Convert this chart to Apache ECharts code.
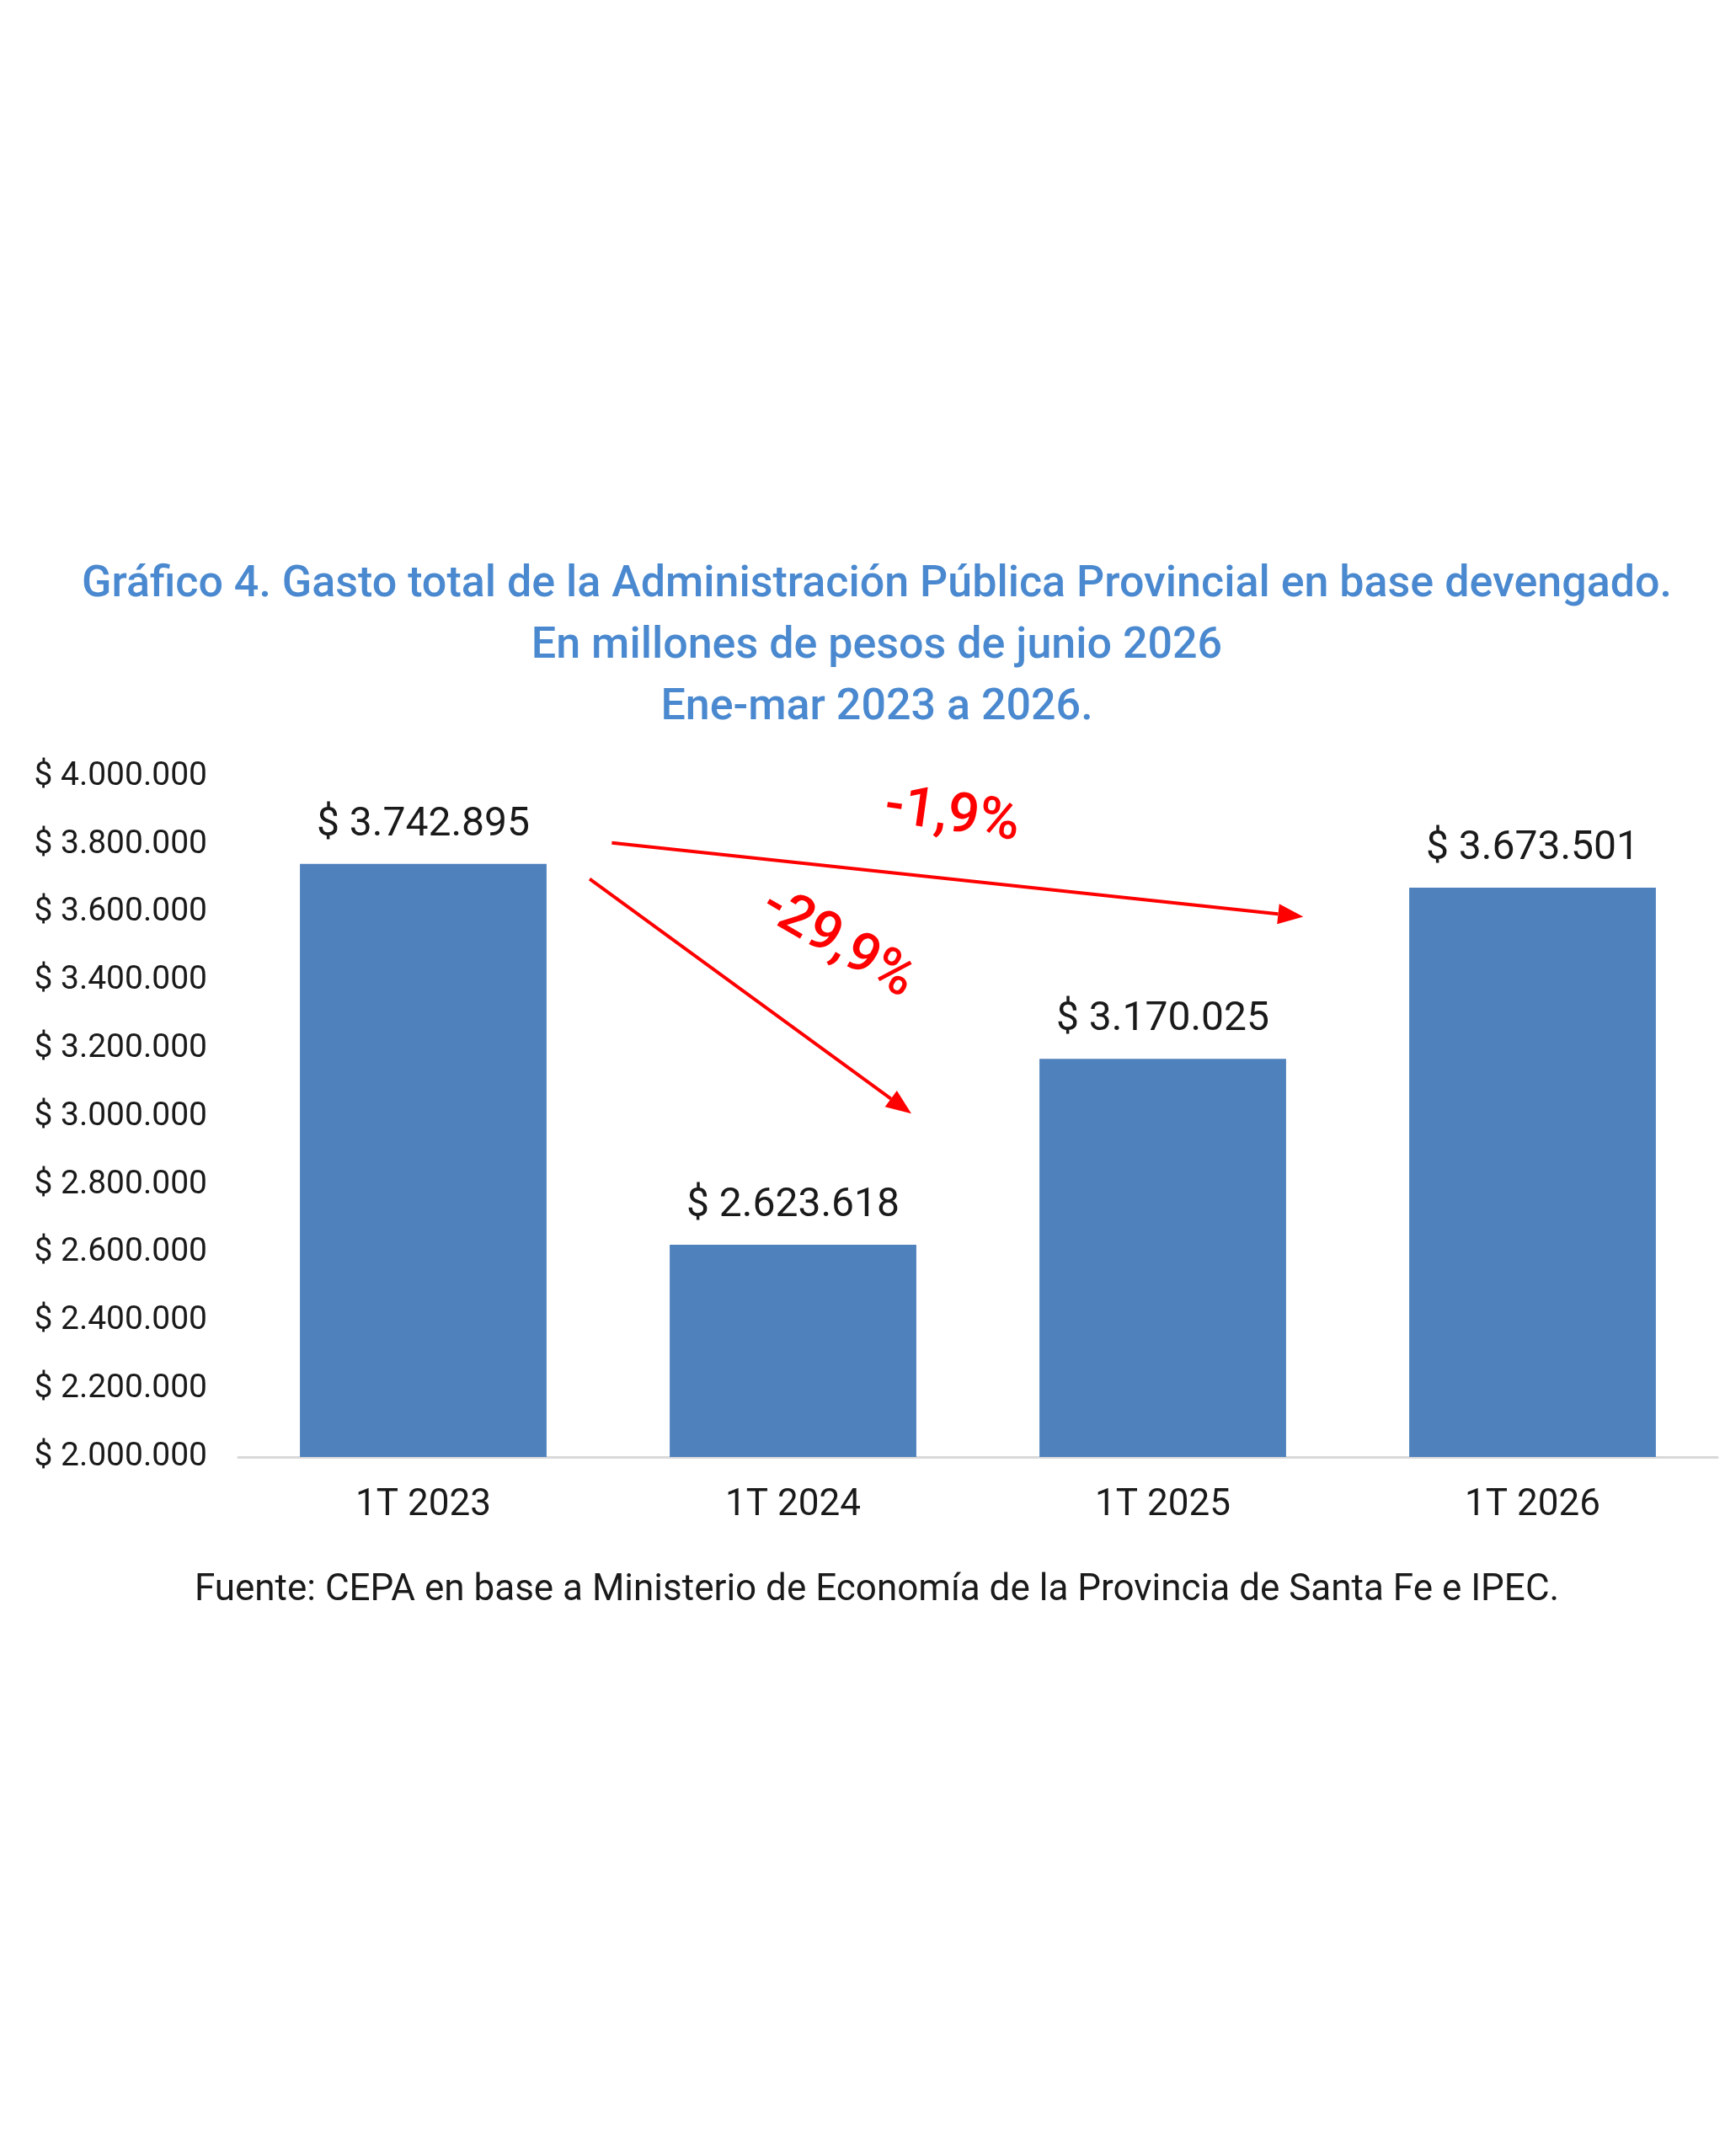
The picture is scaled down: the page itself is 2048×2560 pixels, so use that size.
<!DOCTYPE html>
<html>
<head>
<meta charset="utf-8">
<script src="https://cdn.jsdelivr.net/npm/echarts@6/dist/echarts.min.js"></script>
<style>
html,body{margin:0;padding:0;background:#fff;}
#chart{width:2048px;height:2560px;}
</style>
</head>
<body>
<div id="chart"></div>
<script>
// ---- Data ----
const categories = ['1T 2023', '1T 2024', '1T 2025', '1T 2026'];
const gasto = [3742895, 2623618, 3170025, 3673501];
const titleLines = [
  'Gráfico 4. Gasto total de la Administración Pública Provincial en base devengado.',
  'En millones de pesos de junio 2026',
  'Ene-mar 2023 a 2026.'
];
const sourceText = 'Fuente: CEPA en base a Ministerio de Economía de la Provincia de Santa Fe e IPEC.';
const yMin = 2000000, yMax = 4000000, yStep = 200000;
// annotations: variation labels between periods (x = category index, fractional allowed)
const variations = [
  { text: '-1,9%', from: [0.51, 3805000], to: [2.38, 3588000], label: [1.43, 3882000], rot: -8 },
  { text: '-29,9%', from: [0.45, 3699000], to: [1.32, 3009000], label: [1.12, 3507000], rot: -30 }
];

function fmt(v) {
  return '$ ' + String(Math.round(v)).replace(/\B(?=(\d{3})+(?!\d))/g, '.');
}

const chart = echarts.init(document.getElementById('chart'));
const FONT = 'Roboto';
chart.setOption({
  backgroundColor: '#ffffff',
  animation: false,
  title: [
    {
      text: titleLines.join('\n'),
      left: 1036, top: 653, textAlign: 'center',
      textStyle: { fontFamily: FONT, fontSize: 52, fontWeight: 500, color: '#4A89CF', lineHeight: 73 }
    },
    {
      text: sourceText,
      left: 1036, top: 1862, textAlign: 'center',
      textStyle: { fontFamily: FONT, fontSize: 44, fontWeight: 400, color: '#1a1a1a' }
    }
  ],
  grid: { left: 283, right: 9, top: 922, bottom: 830, containLabel: false },
  xAxis: {
    type: 'category',
    data: categories,
    axisLine: { lineStyle: { color: '#d9d9d9', width: 3 } },
    axisTick: { show: false },
    axisLabel: { fontFamily: FONT, fontSize: 44, color: '#1a1a1a', margin: 36 }
  },
  yAxis: {
    type: 'value',
    min: yMin, max: yMax, interval: yStep,
    splitLine: { show: false },
    axisLine: { show: false },
    axisTick: { show: false },
    axisLabel: { fontFamily: FONT, fontSize: 39, color: '#1a1a1a', margin: 37, formatter: fmt }
  },
  series: [{
    type: 'bar',
    data: gasto,
    barWidth: '66.7%',
    itemStyle: { color: '#4F81BD' },
    label: {
      show: true, position: 'top', distance: 22,
      fontFamily: FONT, fontSize: 48, color: '#1a1a1a',
      formatter: p => fmt(p.value)
    }
  }]
});

// convert [fractional category index, value] to pixels via the axes
function px(pt) {
  const i = Math.floor(pt[0]);
  const f = pt[0] - i;
  const p0 = chart.convertToPixel({ gridIndex: 0 }, [i, pt[1]]);
  const p1 = chart.convertToPixel({ gridIndex: 0 }, [i + 1, pt[1]]);
  return [p0[0] + f * (p1[0] - p0[0]), p0[1]];
}
const graphics = [];
variations.forEach(v => {
  const a = px(v.from), b = px(v.to), l = px(v.label);
  const ang = Math.atan2(b[1] - a[1], b[0] - a[0]);
  const head = 30, hw = 12;
  const bx = b[0] - head * Math.cos(ang), by = b[1] - head * Math.sin(ang);
  graphics.push({
    type: 'line', shape: { x1: a[0], y1: a[1], x2: bx, y2: by },
    style: { stroke: '#FF0000', lineWidth: 4 }
  });
  graphics.push({
    type: 'polygon',
    shape: { points: [
      [b[0], b[1]],
      [bx + hw * Math.sin(ang), by - hw * Math.cos(ang)],
      [bx - hw * Math.sin(ang), by + hw * Math.cos(ang)]
    ] },
    style: { fill: '#FF0000' }
  });
  graphics.push({
    type: 'text', x: l[0], y: l[1], rotation: v.rot * Math.PI / 180,
    style: { text: v.text, fill: '#FF0000', font: '500 66px Roboto', align: 'center', verticalAlign: 'middle' }
  });
});
chart.setOption({ graphic: graphics });
</script>
</body>
</html>
